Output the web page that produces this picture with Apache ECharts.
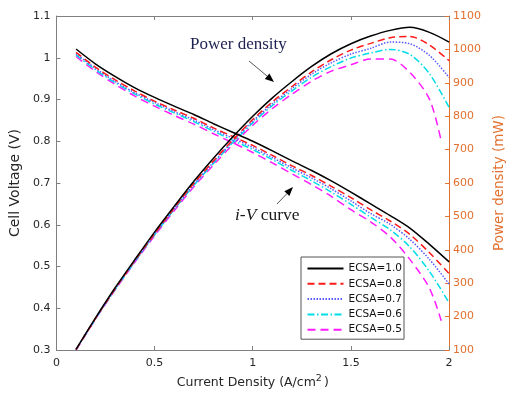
<!DOCTYPE html>
<html><head><meta charset="utf-8">
<script src="https://cdn.jsdelivr.net/npm/echarts@6/dist/echarts.min.js"></script>
<style>html,body{margin:0;padding:0;background:#fff}#c{width:514px;height:395px}</style>
</head><body><div id="c"></div>
<script>
// ---- data ----
const currentDensity = [0.1,0.2,0.3,0.4,0.5,0.6,0.7,0.8,0.9,1.0,1.1,1.2,1.3,1.4,1.5,1.6,1.7,1.8,1.9,2.0];
const currentDensityEcsa05 = [0.1,0.2,0.3,0.4,0.5,0.6,0.7,0.8,0.9,1.0,1.1,1.2,1.3,1.4,1.5,1.6,1.7,1.8,1.9,1.96];
const ecsaNames = ['ECSA=1.0','ECSA=0.8','ECSA=0.7','ECSA=0.6','ECSA=0.5'];

const voltageEcsa10 = [1.021,0.985,0.955,0.928,0.905,0.884,0.864,0.842,0.821,0.800,0.777,0.753,0.730,0.705,0.678,0.650,0.622,0.592,0.553,0.511];
const voltageEcsa08 = [1.013,0.977,0.947,0.920,0.896,0.875,0.855,0.832,0.811,0.790,0.766,0.741,0.718,0.692,0.665,0.636,0.609,0.577,0.533,0.483];
const voltageEcsa07 = [1.010,0.974,0.943,0.916,0.893,0.871,0.851,0.828,0.807,0.785,0.761,0.736,0.712,0.686,0.657,0.627,0.601,0.565,0.517,0.458];
const voltageEcsa06 = [1.007,0.971,0.940,0.913,0.889,0.868,0.847,0.824,0.802,0.780,0.756,0.730,0.705,0.678,0.649,0.618,0.588,0.547,0.488,0.413];
const voltageEcsa05 = [1.003,0.967,0.936,0.908,0.884,0.862,0.841,0.818,0.796,0.773,0.748,0.722,0.696,0.668,0.636,0.607,0.571,0.517,0.448,0.370];

const powerEcsa10 = [102,197,287,371,453,530,605,674,739,800,855,904,949,987,1017,1040,1057,1066,1051,1022];
const powerEcsa08 = [101,195,284,368,448,525,599,666,730,790,843,889,933,969,998,1018,1035,1039,1013,966];
const powerEcsa07 = [101,195,283,366,447,523,596,662,726,785,837,883,926,960,986,1003,1022,1017,982,916];
const powerEcsa06 = [101,194,282,365,445,521,593,659,722,780,832,876,917,949,974,989,1000,985,927,826];
const powerEcsa05 = [100,193,281,363,442,517,589,654,716,773,823,866,905,935,954,971,971,931,851,725];

const xTickLabels = ['0','0.5','1','1.5','2'];
const leftTickLabels = ['0.3','0.4','0.5','0.6','0.7','0.8','0.9','1','1.1'];
const rightTickLabels = ['100','200','300','400','500','600','700','800','900','1000','1100'];

// ---- styles ----
const ORANGE = '#E2702F';
const GRAY = '#808080';
const lineStyles = [
  {color:'#000000', type:'solid'},
  {color:'#FF1A1A', type:[7,4]},
  {color:'#5A5AFF', type:[1.5,1.5]},
  {color:'#00DDE6', type:[7,2.5,1.5,2.5]},
  {color:'#FF1AFF', type:[8,5]}
];
const xs = [currentDensity,currentDensity,currentDensity,currentDensity,currentDensityEcsa05];
const volts = [voltageEcsa10,voltageEcsa08,voltageEcsa07,voltageEcsa06,voltageEcsa05];
const powers = [powerEcsa10,powerEcsa08,powerEcsa07,powerEcsa06,powerEcsa05];

const series = [];
for (let k = 0; k < ecsaNames.length; k++) {
  const ls = {color: lineStyles[k].color, type: lineStyles[k].type, width: 1.5};
  series.push({
    name: ecsaNames[k], type:'line', yAxisIndex:0, xAxisIndex:0,
    data: xs[k].map((x,i)=>[x, volts[k][i]]),
    showSymbol:false, symbol:'none', smooth:0.3, lineStyle: ls, itemStyle:{color: ls.color},
    silent:true, z: 10 - k
  });
  series.push({
    name: ecsaNames[k], type:'line', yAxisIndex:1, xAxisIndex:0,
    data: xs[k].map((x,i)=>[x, powers[k][i]]),
    showSymbol:false, symbol:'none', smooth:0.3, lineStyle: ls, itemStyle:{color: ls.color},
    silent:true, z: 10 - k
  });
}

const chart = echarts.init(document.getElementById('c'), null, {renderer:'canvas'});
const FONT = 'DejaVu Sans';
chart.setOption({
  animation:false,
  backgroundColor:'#ffffff',
  grid:{left:51, right:55, top:16, bottom:45, containLabel:false},
  legend:{
    data: ecsaNames, orient:'vertical', left:301, top:257,
    itemWidth:36, itemHeight:11, itemGap:4.3,
    padding:[6,2,4,5.5], borderColor:'#555', borderWidth:1, backgroundColor:'#fff',
    itemStyle:{opacity:0},
    textStyle:{fontFamily:FONT, fontSize:10.5, color:'#111'},
    selectedMode:false
  },
  xAxis:[{
    type:'value', min:0, max:2, interval:0.5, position:'bottom',
    name:'Current Density (A/cm{sup|2})', nameLocation:'middle', nameGap:24,
    nameTextStyle:{fontFamily:FONT, fontSize:12.5, color:'#262626',
      rich:{sup:{fontFamily:FONT, fontSize:9.5, color:'#262626', padding:[0,2,8,0]}}},
    axisLine:{show:true, onZero:false, lineStyle:{color:GRAY, width:1}},
    axisTick:{show:true, inside:true, length:4, lineStyle:{color:GRAY}},
    axisLabel:{margin:8, color:'#262626', fontFamily:FONT, fontSize:11,
      formatter:v=>xTickLabels[Math.round(v/0.5)]},
    splitLine:{show:false}
  },{
    type:'value', min:0, max:2, interval:0.5, position:'top',
    axisLine:{show:true, onZero:false, lineStyle:{color:GRAY, width:1}},
    axisTick:{show:true, inside:true, length:4, lineStyle:{color:GRAY}},
    axisLabel:{show:false}, splitLine:{show:false}
  }],
  yAxis:[{
    type:'value', min:0.3, max:1.1, interval:0.1, position:'left',
    name:'Cell Voltage (V)', nameLocation:'middle', nameGap:25, nameRotate:90,
    nameTextStyle:{fontFamily:FONT, fontSize:14, color:'#262626'},
    axisLine:{show:true, onZero:false, lineStyle:{color:GRAY, width:1}},
    axisTick:{show:true, inside:true, length:4, lineStyle:{color:GRAY}},
    axisLabel:{margin:6, color:'#262626', fontFamily:FONT, fontSize:11,
      formatter:v=>leftTickLabels[Math.round((v-0.3)/0.1)]},
    splitLine:{show:false}
  },{
    type:'value', min:100, max:1100, interval:100, position:'right',
    name:'Power density (mW)', nameLocation:'middle', nameGap:42, nameRotate:90,
    nameTextStyle:{fontFamily:FONT, fontSize:13.5, color:ORANGE},
    axisLine:{show:true, onZero:false, lineStyle:{color:ORANGE, width:1}},
    axisTick:{show:true, inside:true, length:4, lineStyle:{color:ORANGE}},
    axisLabel:{margin:4, color:ORANGE, fontFamily:FONT, fontSize:11,
      formatter:v=>rightTickLabels[Math.round((v-100)/100)]},
    splitLine:{show:false}
  }],
  graphic:[
    {type:'text', x:190, y:45, z:20, style:{text:'Power density', fontFamily:'Liberation Serif', fontSize:17, fill:'#1c2150', verticalAlign:'middle'}},
    {type:'text', x:235, y:215, z:20, style:{text:'{i|i-V} curve', fontFamily:'Liberation Serif', fontSize:17.5, fill:'#1a1a1a', verticalAlign:'middle',
      rich:{i:{fontFamily:'Liberation Serif', fontSize:17.5, fontStyle:'italic', fill:'#1a1a1a'}}}},
    {type:'line', z:20, shape:{x1:249,y1:61,x2:267,y2:76}, style:{stroke:'#555', lineWidth:1}},
    {type:'polygon', z:20, shape:{points:[[274,82],[264.8,78.9],[269.4,73.5]]}, style:{fill:'#000'}},
    {type:'line', z:20, shape:{x1:277,y1:204,x2:287,y2:193.5}, style:{stroke:'#555', lineWidth:1}},
    {type:'polygon', z:20, shape:{points:[[293,187],[289.4,196.0],[284.3,191.2]]}, style:{fill:'#000'}}
  ],
  series: series
});
</script>
</body></html>
